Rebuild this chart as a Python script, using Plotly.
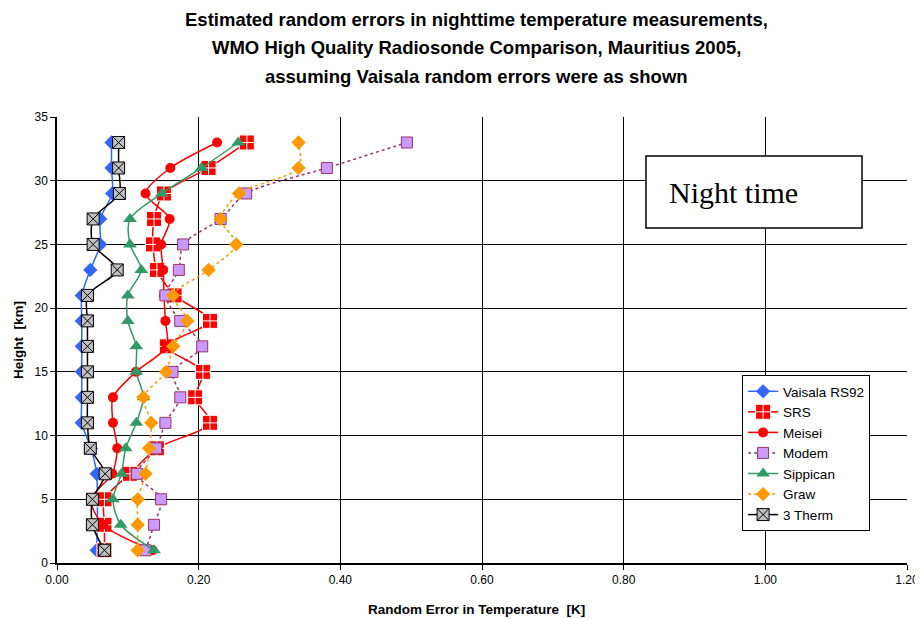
import plotly.graph_objects as go

heights = [1, 3, 5, 7, 9, 11, 13, 15, 17, 19, 21, 23, 25, 27, 29, 31, 33]

vaisala = [0.056, 0.057, 0.057, 0.056, 0.048, 0.035, 0.035, 0.035, 0.035, 0.035, 0.035, 0.047, 0.061, 0.061, 0.078, 0.077, 0.077]
srs = [0.067, 0.067, 0.067, 0.103, 0.141, 0.216, 0.195, 0.206, 0.155, 0.216, 0.166, 0.141, 0.1355, 0.137, 0.151, 0.214, 0.268]
meisei = [0.135, 0.065, 0.048, 0.078, 0.085, 0.079, 0.079, 0.1115, 0.155, 0.153, 0.151, 0.150, 0.147, 0.159, 0.125, 0.160, 0.226]
modem = [0.125, 0.137, 0.147, 0.113, 0.140, 0.153, 0.174, 0.163, 0.205, 0.174, 0.153, 0.172, 0.178, 0.231, 0.267, 0.381, 0.494]
sippican = [0.137, 0.090, 0.079, 0.091, 0.097, 0.112, 0.122, 0.112, 0.112, 0.100, 0.100, 0.119, 0.103, 0.103, 0.148, 0.204, 0.256]
graw = [0.114, 0.114, 0.114, 0.125, 0.130, 0.133, 0.122, 0.154, 0.164, 0.184, 0.164, 0.214, 0.253, 0.231, 0.257, 0.341, 0.341]
therm3 = [0.067, 0.050, 0.050, 0.068, 0.047, 0.043, 0.043, 0.043, 0.043, 0.043, 0.043, 0.085, 0.051, 0.051, 0.088, 0.087, 0.087]

x_ticks = [0.0, 0.2, 0.4, 0.6, 0.8, 1.0, 1.2]
y_ticks = [0, 5, 10, 15, 20, 25, 30, 35]

title_lines = [
    "Estimated random errors in nighttime temperature measurements,",
    "WMO High Quality Radiosonde Comparison, Mauritius 2005,",
    "assuming Vaisala random errors were as shown",
]
x_title = "Random Error in Temperature  [K]"
y_title = "Height  [km]"

fig = go.Figure()

def add(name, xs, color, symbol, size, fill, line_color_m, lw_m, dash="solid"):
    fig.add_trace(go.Scatter(
        x=xs, y=heights, name=name, mode="lines+markers",
        line=dict(color=color, width=1.5, dash=dash, shape="spline", smoothing=0.8),
        marker=dict(symbol=symbol, size=size, color=fill,
                    line=dict(color=line_color_m, width=lw_m)),
    ))

add("Vaisala RS92", vaisala, "#3366FF", "diamond", 11, "#3366FF", "#3366FF", 0)
add("SRS", srs, "#FF0000", "square-cross", 15, "#FF0000", "#FFFFFF", 1)
add("Meisei", meisei, "#FF0000", "circle", 10, "#FF0000", "#FF0000", 0)
add("Modem", modem, "#993366", "square", 11, "#CC99FF", "#993366", 1, dash="dot")
add("Sippican", sippican, "#339966", "triangle-up", 12, "#339966", "#339966", 0)
add("Graw", graw, "#FF9900", "diamond", 11, "#FF9900", "#FF9900", 0, dash="dot")
add("3 Therm", therm3, "#000000", "square-x", 12, "#C0C0C0", "#000000", 1)

axis_common = dict(
    showgrid=True, gridcolor="#000000", gridwidth=1,
    showline=True, linecolor="#000000", linewidth=1.5, mirror=False,
    ticks="outside", ticklen=5, tickcolor="#000000",
    tickfont=dict(family="Liberation Sans, Arial", size=12, color="#000000"),
    zeroline=False, automargin=False,
)

fig.update_xaxes(range=[0, 1.2], tickvals=x_ticks, tickformat=".2f", **axis_common)
fig.update_yaxes(range=[0, 35], tickvals=y_ticks, **axis_common)

bold_font = dict(family="Liberation Sans, Arial", color="#000000")

for i, t in enumerate(title_lines):
    fig.add_annotation(text="<b>" + t + "</b>", xref="paper", yref="paper",
                       x=0.493, y=1 + (97 - 28 * i) / 446.0, xanchor="center", yanchor="middle",
                       showarrow=False, font=dict(size=18.5, **bold_font))

fig.add_annotation(text="<b>" + x_title + "</b>", xref="paper", yref="paper",
                   x=0.494, y=-46 / 446.0, xanchor="center", yanchor="middle",
                   showarrow=False, font=dict(size=13.5, **bold_font))
fig.add_annotation(text="<b>" + y_title + "</b>", xref="paper", yref="paper",
                   x=-39 / 850.0, y=(563 - 340) / 446.0, xanchor="center", yanchor="middle",
                   textangle=-90, showarrow=False, font=dict(size=13.5, **bold_font))

fig.add_shape(type="rect", xref="x", yref="y", x0=0.8315, x1=1.1365, y0=26.29, y1=31.94,
              line=dict(color="#000000", width=1.5), fillcolor="#FFFFFF", layer="above")
fig.add_annotation(text="Night time", xref="x", yref="y", x=0.861, y=29.1,
                   xanchor="left", yanchor="middle", showarrow=False,
                   font=dict(family="Liberation Serif, Times New Roman", size=30, color="#000000"))

# The page body has an 8px default margin, so the figure is sized to fit the window.
fig.update_layout(
    width=915, height=611,
    margin=dict(l=49, r=16, t=109, b=56, autoexpand=False),
    paper_bgcolor="#FFFFFF", plot_bgcolor="#FFFFFF",
    showlegend=True,
    legend=dict(x=0.806, y=0.4215, xanchor="left", yanchor="top",
                bgcolor="#FFFFFF", bordercolor="#000000", borderwidth=1,
                font=dict(family="Liberation Sans, Arial", size=13.5, color="#000000"),
                tracegroupgap=0),
)

fig.write_html("out.html")
